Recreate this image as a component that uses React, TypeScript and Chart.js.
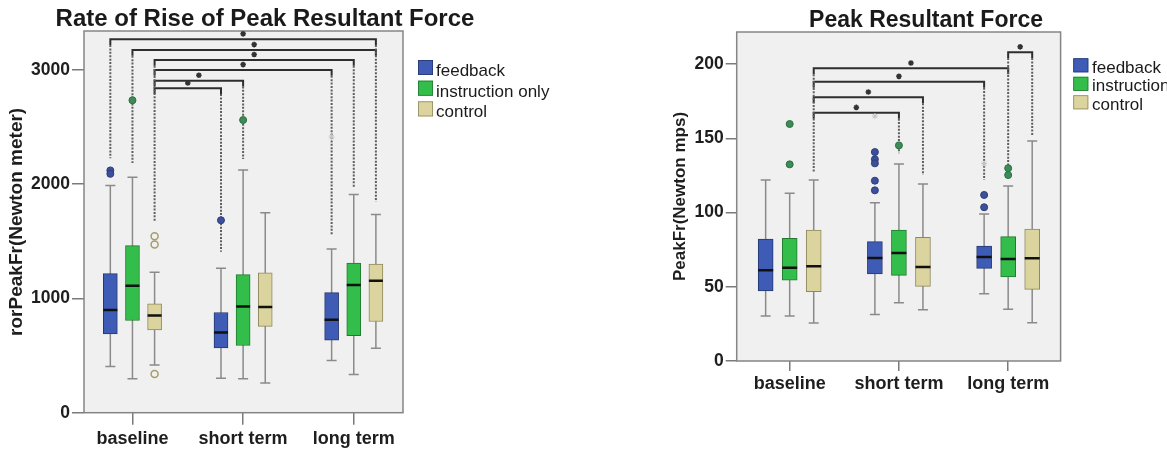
import React, { useEffect, useRef } from 'react';
import { Chart, registerables } from 'chart.js';

Chart.register(...registerables);
Chart.defaults.font.family = "'Liberation Sans', Arial, Helvetica, sans-serif";
Chart.defaults.color = '#1e1e1e';

// ---------- shared ----------
const categories = ['baseline', 'short term', 'long term'];
const seriesNames = ['feedback', 'instruction only', 'control'];
const seriesFill = ['#3e5cb6', '#33bd4a', '#dcd49e'];
const seriesEdge = ['#27386f', '#227a30', '#8f885e'];
const outlierFill = ['#3c4f9c', '#3b8c57', 'rgba(0,0,0,0)'];
const outlierEdge = ['#2e3d78', '#2e6e44', '#a59d6c'];

// ---------- panel 1: Rate of Rise of Peak Resultant Force ----------
const rorTitle = 'Rate of Rise of Peak Resultant Force';
const rorAxisTitle = 'rorPeakFr(Newton meter)';
const rorTicks = [0, 1000, 2000, 3000];
const rorAxisMax = 3340;
// [lower whisker, Q1, median, Q3, upper whisker] for baseline, short term, long term
const rorFeedback = [[404, 690, 898, 1217, 1989], [301, 567, 702, 877, 1263], [456, 635, 813, 1050, 1433]];
const rorInstruction = [[296, 807, 1111, 1462, 2061], [296, 588, 930, 1208, 2123], [334, 673, 1117, 1310, 1910]];
const rorControl = [[418, 725, 851, 953, 1228], [260, 755, 924, 1223, 1749], [565, 798, 1155, 1301, 1734]];
// [category, series, value]
const rorOutliers = [[0, 0, 2120], [0, 0, 2090], [1, 0, 1684], [0, 1, 2734], [1, 1, 2561], [0, 2, 1544], [0, 2, 1471], [0, 2, 339]];
const rorExtremes = [[2, 0, 2412]];
// [categoryA, seriesA, categoryB, seriesB, bracket level]
const rorBrackets = [[0, 0, 2, 2, 3267], [0, 1, 2, 2, 3173], [0, 2, 2, 1, 3086], [0, 2, 2, 0, 2998], [0, 2, 1, 1, 2905], [0, 2, 1, 0, 2838]];
// [category, series, lower end of dotted connector]
const rorDotted = [[0, 0, 2226], [0, 1, 2184], [0, 2, 1671], [1, 0, 1409], [1, 1, 2220], [2, 0, 1555], [2, 1, 1977], [2, 2, 1846]];

// ---------- panel 2: Peak Resultant Force ----------
const pfTitle = 'Peak Resultant Force';
const pfAxisTitle = 'PeakFr(Newton mps)';
const pfTicks = [0, 50, 100, 150, 200];
const pfAxisMax = 221.7;
const pfFeedback = [[30.3, 47.2, 61.1, 82.2, 122], [31.4, 58.6, 69.4, 80.4, 106.7], [45.4, 62.4, 70.1, 77.5, 99]];
const pfInstruction = [[30.3, 54.4, 62.9, 82.7, 113], [39.3, 57.7, 72.8, 88.3, 132.7], [34.8, 56.6, 68.7, 83.8, 118]];
const pfControl = [[25.6, 46.7, 63.8, 88.3, 122], [34.6, 50.3, 63.3, 83.3, 119.3], [25.8, 48.3, 69.2, 88.9, 148.2]];
const pfOutliers = [[1, 0, 140.8], [1, 0, 135.9], [1, 0, 133.2], [1, 0, 121.5], [1, 0, 115], [2, 0, 111.9], [2, 0, 103.6],
  [0, 1, 159.7], [0, 1, 132.5], [1, 1, 145.3], [2, 1, 129.9], [2, 1, 125.3]];
const pfExtremes = [[1, 0, 165], [2, 0, 133]];
const pfBrackets = [[0, 2, 2, 1, 197.2], [0, 2, 2, 0, 188.2], [0, 2, 1, 2, 177.7], [0, 2, 1, 1, 167.3], [2, 1, 2, 2, 208.1]];
const pfDotted = [[0, 2, 127.6], [1, 1, 140], [1, 2, 125.3], [2, 0, 122], [2, 1, 130.9], [2, 2, 152.3]];

const FONT = "'Liberation Sans', Arial, Helvetica, sans-serif";

const rorPanel = {
  title: rorTitle, axisTitle: rorAxisTitle, boxes: [rorFeedback, rorInstruction, rorControl],
  outliers: rorOutliers, extremes: rorExtremes, brackets: rorBrackets, dotted: rorDotted,
  yMax: rorAxisMax, ticks: rorTicks,
  xMin: 0.562, xMax: 3.445, offset: 0.2, boxWidth: 14, capR: 5, tick: 50, starGap: 48,
  pad: { left: 0, top: 31, right: 149, bottom: 0 }, yAxisW: 84, xAxisH: 37.3,
  yTick: 12, yPad: 2, xTick: 12, xPad: 4, yTitleSize: 19, yTitlePad: 5.6, tickSize: 17.5, xLabelSize: 18,
  titleX: 265, titleY: 26, titleSize: 24,
  legend: { x: 418, top: 60, step: 20.7, w: 15, h: 15, textX: 436, textDy: 16, size: 17 },
};

const pfPanel = {
  title: pfTitle, axisTitle: pfAxisTitle, boxes: [pfFeedback, pfInstruction, pfControl],
  outliers: pfOutliers, extremes: pfExtremes, brackets: pfBrackets, dotted: pfDotted,
  yMax: pfAxisMax, ticks: pfTicks,
  xMin: 0.515, xMax: 3.48, offset: 0.22, boxWidth: 15, capR: 5, tick: 4, starGap: 3.6,
  pad: { left: 80, top: 32, right: 106.4, bottom: 39 }, yAxisW: 76.7, xAxisH: 50,
  yTick: 11, yPad: 2, xTick: 10, xPad: 2, yTitleSize: 17, yTitlePad: 10.5, tickSize: 17.5, xLabelSize: 18,
  titleX: 346, titleY: 27, titleSize: 23,
  legend: { x: 493.3, top: 58.3, step: 18.5, w: 15, h: 14, textX: 512, textDy: 14.5, size: 17 },
};

function decorPlugin(p: any) {
  return {
    id: 'decor',
    beforeDraw(chart: any) {
      const { ctx, chartArea: a } = chart;
      ctx.save();
      ctx.fillStyle = '#f0f0f0';
      ctx.fillRect(a.left, a.top, a.right - a.left, a.bottom - a.top);
      ctx.restore();
    },
    beforeDatasetsDraw(chart: any) {
      const { ctx, chartArea: a } = chart;
      ctx.save();
      ctx.strokeStyle = '#858585';
      ctx.lineWidth = 1.5;
      ctx.strokeRect(a.left, a.top, a.right - a.left, a.bottom - a.top);
      ctx.restore();
    },
    afterDraw(chart: any) {
      const ctx = chart.ctx;
      ctx.save();
      ctx.fillStyle = '#1a1a1a';
      ctx.font = `bold ${p.titleSize}px ${FONT}`;
      ctx.textAlign = 'center';
      ctx.textBaseline = 'alphabetic';
      ctx.fillText(p.title, p.titleX, p.titleY);
      const L = p.legend;
      ctx.font = `${L.size}px ${FONT}`;
      ctx.textAlign = 'left';
      seriesNames.forEach((name, i) => {
        const y = L.top + i * L.step;
        ctx.fillStyle = seriesFill[i];
        ctx.fillRect(L.x, y, L.w, L.h);
        ctx.strokeStyle = seriesEdge[i];
        ctx.lineWidth = 0.8;
        ctx.strokeRect(L.x + 0.4, y + 0.4, L.w - 0.8, L.h - 0.8);
        ctx.fillStyle = '#1a1a1a';
        ctx.fillText(name, L.textX, y + L.textDy);
      });
      ctx.restore();
    },
  };
}

function makeConfig(p: any): any {
  const offs = [-p.offset, 0, p.offset];
  const xOf = (c: number, s: number) => c + 1 + offs[s];
  const datasets: any[] = [];

  p.boxes.forEach((rows: number[][], s: number) => {
    datasets.push({
      type: 'bar', label: seriesNames[s],
      data: rows.map((r, c) => ({ x: xOf(c, s), y: [r[1], r[3]] })),
      backgroundColor: seriesFill[s], borderColor: seriesEdge[s], borderWidth: 1, borderSkipped: false,
      barThickness: p.boxWidth, grouped: false, order: 3,
    });
  });

  const whisk: any[] = [];
  const caps: any[] = [];
  const meds: any[] = [];
  p.boxes.forEach((rows: number[][], s: number) => rows.forEach((r, c) => {
    const x = xOf(c, s);
    whisk.push({ x, y: r[0] }, { x, y: r[4] }, { x, y: null });
    caps.push({ x, y: r[0] }, { x, y: r[4] });
    meds.push({ x, y: r[2] });
  }));
  datasets.push({ type: 'line', data: whisk, borderColor: '#8a8a8a', borderWidth: 1.5, pointRadius: 0, spanGaps: false, fill: false, order: 5 });
  datasets.push({ type: 'scatter', data: caps, pointStyle: 'line', pointRadius: p.capR, borderColor: '#8a8a8a', pointBorderColor: '#8a8a8a', pointBorderWidth: 1.5, order: 4 });
  datasets.push({ type: 'scatter', data: meds, pointStyle: 'line', pointRadius: p.boxWidth / 2, borderColor: '#111', pointBorderColor: '#111', pointBorderWidth: 2.5, order: 0 });

  [0, 1, 2].forEach((s) => {
    const pts = p.outliers.filter((o: number[]) => o[1] === s).map((o: number[]) => ({ x: xOf(o[0], s), y: o[2] }));
    if (!pts.length) return;
    datasets.push({
      type: 'scatter', data: pts, pointStyle: 'circle', pointRadius: 3.5,
      backgroundColor: outlierFill[s], pointBackgroundColor: outlierFill[s],
      borderColor: outlierEdge[s], pointBorderColor: outlierEdge[s], pointBorderWidth: s === 2 ? 1.5 : 1, order: 1,
    });
  });
  datasets.push({
    type: 'scatter', data: p.extremes.map((o: number[]) => ({ x: xOf(o[0], o[1]), y: o[2] })),
    pointStyle: 'star', pointRadius: 3, borderColor: '#c4c4c4', pointBorderColor: '#c4c4c4', pointBorderWidth: 1, order: 1,
  });

  // dotted connectors
  const dots: any[] = [];
  p.dotted.forEach((d: number[]) => {
    const levels = p.brackets.filter((b: number[]) => (b[0] === d[0] && b[1] === d[1]) || (b[2] === d[0] && b[3] === d[1])).map((b: number[]) => b[4]);
    const top = Math.max(...levels) - p.tick;
    const x = xOf(d[0], d[1]);
    dots.push({ x, y: top }, { x, y: d[2] }, { x, y: null });
  });
  datasets.push({ type: 'line', data: dots, borderColor: '#5e5e5e', borderWidth: 2, borderDash: [2, 1.4], borderCapStyle: 'butt', pointRadius: 0, spanGaps: false, fill: false, order: 2 });

  // brackets and stars
  const br: any[] = [];
  const stars: any[] = [];
  p.brackets.forEach((b: number[]) => {
    const xa = xOf(b[0], b[1]);
    const xb = xOf(b[2], b[3]);
    br.push({ x: xa, y: b[4] - p.tick }, { x: xa, y: b[4] }, { x: xb, y: b[4] }, { x: xb, y: b[4] - p.tick }, { x: xb, y: null });
    stars.push({ x: (xa + xb) / 2, y: b[4] + p.starGap });
  });
  datasets.push({ type: 'line', data: br, borderColor: '#2e2e2e', borderWidth: 2, borderJoinStyle: 'miter', borderCapStyle: 'butt', pointRadius: 0, spanGaps: false, fill: false, order: 2 });
  datasets.push({ type: 'scatter', data: stars, pointStyle: 'star', pointRadius: 2.8, borderColor: '#333', pointBorderColor: '#333', pointBorderWidth: 1.5, order: 1, clip: false });

  return {
    type: 'bar',
    data: { datasets },
    plugins: [decorPlugin(p)],
    options: {
      responsive: false,
      animation: false,
      events: [],
      layout: { padding: p.pad },
      plugins: { legend: { display: false }, tooltip: { enabled: false }, title: { display: false } },
      scales: {
        x: {
          type: 'linear', min: p.xMin, max: p.xMax, offset: false,
          afterBuildTicks: (s: any) => { s.ticks = categories.map((_, i) => ({ value: i + 1 })); },
          afterFit: (s: any) => { s.height = p.xAxisH; },
          ticks: {
            autoSkip: false, maxRotation: 0, minRotation: 0, padding: p.xPad, color: '#1e1e1e',
            font: { size: p.xLabelSize, weight: 'bold' },
            callback: (v: number) => categories[Math.round(v) - 1] ?? '',
          },
          grid: { offset: false, drawOnChartArea: false, drawTicks: true, tickLength: p.xTick, color: '#7a7a7a', lineWidth: 1.5 },
          border: { display: false },
        },
        y: {
          type: 'linear', min: 0, max: p.yMax,
          afterBuildTicks: (s: any) => { s.ticks = p.ticks.map((v: number) => ({ value: v })); },
          afterFit: (s: any) => { s.width = p.yAxisW; },
          ticks: { padding: p.yPad, color: '#1e1e1e', font: { size: p.tickSize, weight: 'bold' }, callback: (v: number) => String(v) },
          grid: { drawOnChartArea: false, drawTicks: true, tickLength: p.yTick, color: '#7a7a7a', lineWidth: 1.5 },
          border: { display: false },
          title: {
            display: true, text: p.axisTitle, color: '#1e1e1e',
            font: { size: p.yTitleSize, weight: 'bold' }, padding: { top: p.yTitlePad, bottom: 0 },
          },
        },
      },
    },
  };
}

export default function App() {
  const leftRef = useRef<HTMLCanvasElement>(null);
  const rightRef = useRef<HTMLCanvasElement>(null);
  useEffect(() => {
    const charts = [
      new Chart(leftRef.current as HTMLCanvasElement, makeConfig(rorPanel)),
      new Chart(rightRef.current as HTMLCanvasElement, makeConfig(pfPanel)),
    ];
    return () => charts.forEach((c) => c.destroy());
  }, []);
  return (
    <div style={{ position: 'fixed', left: 0, top: 0, width: 1167, height: 450, background: '#fff', overflow: 'hidden' }}>
      <canvas ref={leftRef} width={552} height={450} style={{ position: 'absolute', left: 0, top: 0, width: 552, height: 450 }} />
      <canvas ref={rightRef} width={587} height={450} style={{ position: 'absolute', left: 580, top: 0, width: 587, height: 450 }} />
    </div>
  );
}
